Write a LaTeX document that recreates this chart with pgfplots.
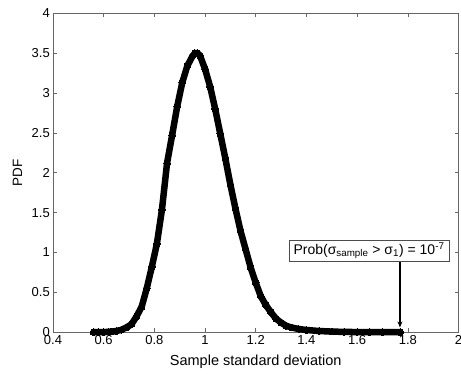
\documentclass[border=0pt]{standalone}
\usepackage{fontspec}
\setmainfont{Liberation Sans}
\usepackage{pgfplots}
\pgfplotsset{compat=1.18}
\usetikzlibrary{arrows.meta,calc}
\begin{document}
\begin{tikzpicture}
\begin{axis}[
  scale only axis,
  width=405.6pt, height=319pt,
  xmin=0.4, xmax=2, ymin=0, ymax=4,
  xtick={0.4,0.6,...,2.01}, ytick={0,0.5,...,4},
  tick align=inside, tickpos=both,
  major tick length=4pt,
  axis line style={black!60, line width=0.6pt},
  every tick/.style={black!60, line width=0.6pt},
  /pgf/number format/assume math mode=true,
  xticklabel={\fontsize{13}{15}\selectfont\pgfmathprintnumber[assume math mode=true]{\tick}},
  yticklabel={\fontsize{13}{15}\selectfont\pgfmathprintnumber[assume math mode=true]{\tick}},
  xticklabel style={inner sep=3pt},
  yticklabel style={inner sep=3pt},
  xlabel={Sample standard deviation},
  ylabel={PDF},
  every axis x label/.style={at={(axis description cs:0.5,-0.094)},anchor=center,font=\fontsize{14.5}{17}\selectfont},
  every axis y label/.style={at={(axis description cs:-0.0875,0.5)},rotate=90,anchor=center,font=\fontsize{13.5}{16}\selectfont},
  clip=false,
]
\addplot[black, line width=6.5pt, line join=round, line cap=round,
  mark=*, mark size=3.3pt, mark options={line width=0pt}] coordinates {
(0.56,0.000) (0.58,0.001) (0.60,0.002) (0.62,0.004) (0.63,0.007) (0.65,0.015)
(0.67,0.030) (0.69,0.060) (0.71,0.100) (0.73,0.200) (0.75,0.320) (0.77,0.550)
(0.79,0.820) (0.81,1.110) (0.83,1.540) (0.85,2.120) (0.87,2.470) (0.89,2.830)
(0.91,3.130) (0.93,3.340) (0.95,3.460) (0.96,3.500) (0.97,3.500) (0.98,3.470)
(1.00,3.300) (1.02,3.080) (1.04,2.800) (1.06,2.490) (1.08,2.180) (1.10,1.850)
(1.12,1.550) (1.14,1.270) (1.16,1.040) (1.18,0.810) (1.20,0.620) (1.22,0.450)
(1.24,0.340) (1.26,0.250) (1.28,0.170) (1.30,0.120) (1.32,0.080) (1.34,0.060)
(1.37,0.040) (1.40,0.028) (1.45,0.015) (1.50,0.008) (1.55,0.004) (1.60,0.002)
(1.65,0.001) (1.70,0.0005) (1.77,0.000)
};
\draw[black, line width=1.2pt, -{Stealth[length=6pt,width=5pt]}]
  (axis cs:1.769,0.89) -- (axis cs:1.769,0.06);
\node[draw=black!70, fill=white, line width=0.6pt, inner xsep=4pt, inner ysep=2pt,
  minimum width=160pt, minimum height=21pt, font=\fontsize{14}{16}\selectfont]
  at (axis cs:1.647,1.023)
  {Prob(σ\textsubscript{sample} > σ\textsubscript{1}) = 10\textsuperscript{-7}};
\end{axis}
\pgfresetboundingbox
\path[use as bounding box] ($(current axis.south west)+(-53pt,-41pt)$) rectangle ($(current axis.north east)+(2.5pt,13.3pt)$);
\end{tikzpicture}
\end{document}
